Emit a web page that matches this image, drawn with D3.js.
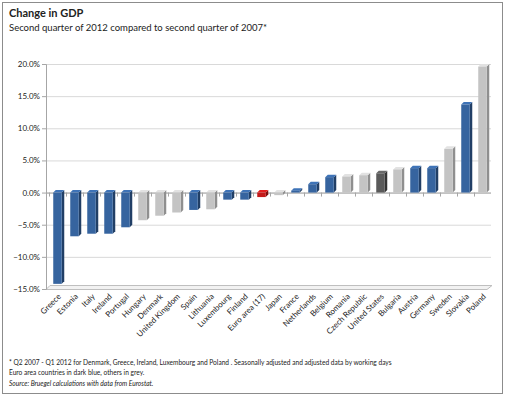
<!DOCTYPE html>
<html>
<head>
<meta charset="utf-8">
<script src="https://cdn.jsdelivr.net/npm/d3@7.9.0/dist/d3.min.js"></script>
<style>
  body { margin: 0; background: #fff; }
  svg text { font-family: Lato, "Open Sans", sans-serif; fill: #222; }
</style>
</head>
<body>
<svg id="chart"></svg>
<script>
const width = 505;
const height = 398;

// data
const countries = ["Greece", "Estonia", "Italy", "Ireland", "Portugal", "Hungary", "Denmark",
  "United Kingdom", "Spain", "Lithuania", "Luxembourg", "Finland", "Euro area (17)", "Japan",
  "France", "Netherlands", "Belgium", "Romania", "Czech Republic", "United States", "Bulgaria",
  "Austria", "Germany", "Sweden", "Slovakia", "Poland"];
const gdpChange = [-14.2, -6.8, -6.4, -6.4, -5.4, -4.3, -3.6, -3.1, -2.7, -2.6, -1.1, -1.1, -0.7,
  -0.4, 0.3, 1.3, 2.4, 2.5, 2.7, 3.0, 3.6, 3.8, 3.8, 6.8, 13.7, 19.6];
// e = euro area, o = other, a = euro aggregate, u = united states
const group = ["e", "e", "e", "e", "e", "o", "o", "o", "e", "o", "e", "e", "a", "o",
  "e", "e", "e", "o", "o", "u", "o", "e", "e", "o", "e", "o"];
const yTicks = [-15, -10, -5, 0, 5, 10, 15, 20];

const colors = {
  e: { front: "#36649f", side: "#213f66" },
  o: { front: "#c4c4c4", side: "#8f8f8f" },
  a: { front: "#c41a1a", side: "#7d0d0d" },
  u: { front: "#5a5a5a", side: "#333333" }
};

const svg = d3.select("#chart").attr("width", width).attr("height", height);

// outer frame
svg.append("rect")
  .attr("x", 2.5).attr("y", 2.5)
  .attr("width", 500).attr("height", 391)
  .attr("fill", "#fff").attr("stroke", "#8c8c8c");

svg.append("text").attr("x", 9).attr("y", 17)
  .style("font-size", "11px").style("font-weight", "bold")
  .text("Change in GDP");
svg.append("text").attr("x", 9).attr("y", 31)
  .style("font-size", "9.5px")
  .text("Second quarter of 2012 compared to second quarter of 2007*");

const y = d3.scaleLinear().domain([-15, 20]).range([289, 64]);
const x = d3.scaleBand().domain(countries).range([49, 491]).paddingInner(0.5).paddingOuter(0.25);

// gridlines
svg.append("g")
  .selectAll("line")
  .data(yTicks.filter(d => d !== -15))
  .join("line")
  .attr("x1", 46).attr("x2", 491)
  .attr("y1", d => y(d) + 0.5).attr("y2", d => y(d) + 0.5)
  .attr("stroke", "#d9d9d9");

// floor of the 3d plot
svg.append("path")
  .attr("d", `M46,${y(-15) + 0.5} L487,${y(-15) + 0.5} L492,${y(-15) - 3.5} L50,${y(-15) - 3.5} Z`)
  .attr("fill", "#f2f2f2").attr("stroke", "#bfbfbf");

// y axis
const yAxis = d3.axisLeft(y)
  .tickValues(yTicks)
  .tickSize(4)
  .tickFormat(d => d3.format(".1f")(d) + "%");
const ya = svg.append("g").attr("transform", "translate(46,0)").call(yAxis);
ya.select(".domain").attr("stroke", "#a6a6a6");
ya.selectAll(".tick line").attr("stroke", "#a6a6a6");
ya.selectAll(".tick text").style("font-size", "8px").attr("x", -6)
  .style("font-family", "Lato, 'Open Sans', sans-serif").attr("fill", "#222");

// zero line with category ticks
svg.append("line")
  .attr("x1", 46).attr("x2", 491)
  .attr("y1", y(0) + 0.5).attr("y2", y(0) + 0.5)
  .attr("stroke", "#a6a6a6");
svg.append("g")
  .selectAll("line")
  .data(countries)
  .join("line")
  .attr("x1", d => Math.round(x(d) - x.step() * x.paddingInner() / 2) + 0.5)
  .attr("x2", d => Math.round(x(d) - x.step() * x.paddingInner() / 2) + 0.5)
  .attr("y1", y(0)).attr("y2", y(0) + 4)
  .attr("stroke", "#a6a6a6");

// bars with a simple 3d look
const side = 2.5;
const bars = svg.append("g")
  .selectAll("g")
  .data(countries.map((c, i) => ({ c, v: gdpChange[i], g: group[i] })))
  .join("g");

bars.append("path")
  .attr("d", d => {
    const x0 = x(d.c) + x.bandwidth();
    const top = Math.min(y(d.v), y(0));
    const bot = Math.max(y(d.v), y(0));
    return `M${x0},${top} L${x0 + side},${top - side} L${x0 + side},${bot - side} L${x0},${bot} Z`;
  })
  .attr("fill", d => colors[d.g].side);

bars.append("path")
  .attr("d", d => {
    const x0 = x(d.c);
    const x1 = x0 + x.bandwidth();
    const top = Math.min(y(d.v), y(0));
    return `M${x0},${top} L${x0 + side},${top - side} L${x1 + side},${top - side} L${x1},${top} Z`;
  })
  .attr("fill", d => d3.color(colors[d.g].front).brighter(0.4));

bars.append("rect")
  .attr("x", d => x(d.c))
  .attr("y", d => Math.min(y(d.v), y(0)))
  .attr("width", x.bandwidth())
  .attr("height", d => Math.max(1, Math.abs(y(d.v) - y(0))))
  .attr("fill", d => colors[d.g].front);

// category labels
svg.append("g")
  .selectAll("text")
  .data(countries)
  .join("text")
  .attr("transform", d => `translate(${x(d) + x.bandwidth() / 2 + 4},${297}) rotate(-45)`)
  .attr("text-anchor", "end")
  .style("font-size", "8px")
  .text(d => d);

// notes
svg.append("text").attr("x", 9).attr("y", 365)
  .style("font-size", "6.6px")
  .text("* Q2 2007 - Q1 2012 for Denmark, Greece, Ireland,  Luxembourg and Poland . Seasonally adjusted and adjusted data by working days");
svg.append("text").attr("x", 9).attr("y", 375)
  .style("font-size", "6.6px")
  .text("Euro area countries in dark blue, others in grey.");
svg.append("text").attr("x", 9).attr("y", 386)
  .style("font-size", "6.6px").style("font-style", "italic")
  .text("Source: Bruegel calculations with data from Eurostat.");
</script>
</body>
</html>
